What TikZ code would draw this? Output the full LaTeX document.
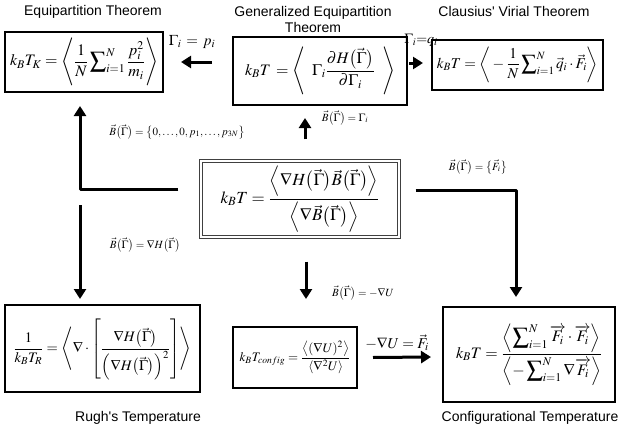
\documentclass[tikz,border=0pt]{standalone}
\usepackage{amsmath}
\usepackage{mathptmx}
\usepackage[no-math]{fontspec}
\setmainfont{Liberation Serif}
\newfontfamily\titlefont{Liberation Sans}
\usetikzlibrary{arrows.meta}
\begin{document}
\begin{tikzpicture}[x=1pt,y=-1pt,
  mbox/.style={draw, line width=2pt, inner sep=0pt, font=\fontsize{16}{18}\selectfont},
  arr/.style={line width=3pt, -{Triangle[length=10pt,width=12pt]}, line join=round},
  title/.style={font=\titlefont\fontsize{14}{16}\selectfont, align=center, inner sep=0pt},
  lbl/.style={font=\fontsize{11}{13}\selectfont, inner sep=0pt},
  blbl/.style={font=\fontsize{15}{17}\selectfont, inner sep=0pt}]
\useasboundingbox (0,0) rectangle (630,434);

% titles
\node[title] (t1) at (93,12) {Equipartition Theorem};
\node[title] (t2) at (313,19) {Generalized Equipartition\\Theorem};
\node[title] (t3) at (514,11) {Clausius' Virial Theorem};
\node[title] (t4) at (138,418) {Rugh's Temperature};
\node[title] (t5) at (530,418) {Configurational Temperature};

% boxes
\node[mbox, minimum width=158pt, minimum height=60pt] (box1) at (84,62)
  {$k_BT_K=\left\langle\rule[-20pt]{0pt}{44pt}\displaystyle\frac{1}{N}\sum\nolimits_{i=1}^{N}\frac{p_i^2}{m_i}\right\rangle$};
\node[mbox, minimum width=174pt, minimum height=68pt] (ge) at (320,71)
  {$k_BT\,=\left\langle\rule[-23pt]{0pt}{54pt}\;\;\Gamma_i\displaystyle\frac{\partial H\bigl(\vec\Gamma\bigr)}{\partial\Gamma_i}\;\;\right\rangle$};
\node[mbox, minimum width=171pt, minimum height=50pt, font=\fontsize{15}{17}\selectfont] (cl) at (517.5,65)
  {$k_BT=\left\langle\rule[-15pt]{0pt}{36pt}-\displaystyle\frac{1}{N}\sum\nolimits_{i=1}^{N}\vec q_i\cdot\vec F_i\right\rangle$};
\node[draw=black!75, double=white, double distance=1.5pt, line width=1.2pt, inner sep=0pt,
  minimum width=198pt, minimum height=76pt, font=\fontsize{17}{19}\selectfont] (cen) at (300,199)
  {$k_BT=\dfrac{\left\langle\nabla H\bigl(\vec\Gamma\bigr)\vec B\bigl(\vec\Gamma\bigr)\right\rangle}{\left\langle\nabla\vec B\bigl(\vec\Gamma\bigr)\right\rangle}$};
\node[mbox, minimum width=195pt, minimum height=87pt, font=\fontsize{14.5}{17}\selectfont] (rugh) at (102.5,348.5)
  {$\dfrac{1}{k_BT_R}=\left\langle\rule[-32pt]{0pt}{72pt}\nabla\cdot\left[\dfrac{\nabla H\bigl(\vec\Gamma\bigr)}{\Bigl(\nabla H\bigl(\vec\Gamma\bigr)\Bigr)^2}\right]\right\rangle$};
\node[mbox, minimum width=124pt, minimum height=61pt, font=\fontsize{13}{15}\selectfont] (cfg) at (295,357.5)
  {$k_BT_{config}=\dfrac{\left\langle(\nabla U)^2\right\rangle}{\left\langle\nabla^2U\right\rangle}$};
\node[mbox, minimum width=172pt, minimum height=95pt] (conf) at (529,354.5)
  {$k_BT=\dfrac{\left\langle\displaystyle\sum\nolimits_{i=1}^{N}\overrightarrow{F_i}\cdot\overrightarrow{F_i}\right\rangle}{\left\langle-\displaystyle\sum\nolimits_{i=1}^{N}\nabla\overrightarrow{F_i}\right\rangle}$};

% connectors
\draw[arr] ([xshift=-20pt,yshift=9pt]ge.west) -- ([xshift=17pt]box1.east);
\draw[arr] ([xshift=1pt,yshift=8pt]ge.east) -- ([xshift=-8pt,yshift=2pt]cl.west);
\draw[arr] ([xshift=5pt,yshift=21pt]cen.north) -- ([xshift=-15pt,yshift=-12pt]ge.south);
\draw[arr] ([xshift=-22pt,yshift=10pt]cen.west) -| ([xshift=-4pt,yshift=-13pt]box1.south);
\coordinate (ld) at (80,205);
\draw[arr] (ld) -- ([xshift=-22.5pt,yshift=5pt]rugh.north);
\draw[arr] ([xshift=16pt,yshift=9pt]cen.east) -| ([xshift=-13pt,yshift=9pt]conf.north);
\draw[arr] ([xshift=6pt,yshift=-24pt]cen.south) -- ([xshift=11pt,yshift=27pt]cfg.north);
\draw[arr] ([xshift=15pt]cfg.east) -- ([xshift=-11pt,yshift=-2.5pt]conf.west);

% labels
\node[blbl] (l1) at (192,42) {$\Gamma_i\,=\,p_i$};
\node[lbl, font=\fontsize{14}{16}\selectfont] (l2) at (421,40) {$\Gamma_i{=}q_i$};
\node[lbl] (l3) at (345,118) {$\vec B\bigl(\vec\Gamma\bigr)=\Gamma_i$};
\node[lbl] (l4) at (177,132) {$\vec B\bigl(\vec\Gamma\bigr)=\bigl\{0,\ldots,0,p_1,\ldots,p_{3N}\bigr\}$};
\node[lbl] (l5) at (478,167) {$\vec B\bigl(\vec\Gamma\bigr)=\bigl\{\vec F_i\bigr\}$};
\node[lbl] (l6) at (145,245) {$\vec B\bigl(\vec\Gamma\bigr)=\nabla H\bigl(\vec\Gamma\bigr)$};
\node[lbl] (l7) at (363,293) {$\vec B\bigl(\vec\Gamma\bigr)=-\nabla U$};
\node[blbl] (l8) at (397,343) {$-\nabla U=\vec F_i$};
\end{tikzpicture}
\end{document}
